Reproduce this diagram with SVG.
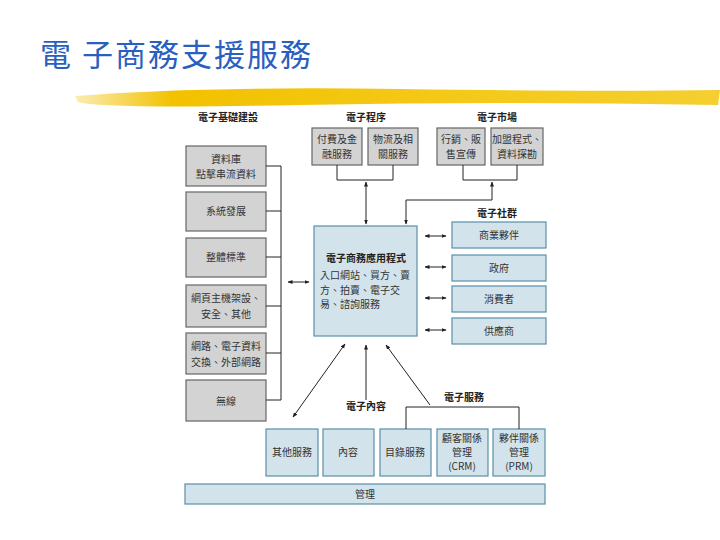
<svg xmlns="http://www.w3.org/2000/svg" width="720" height="540" viewBox="0 0 720 540">
<defs>
<marker id="ah" viewBox="0 0 10 10" refX="9" refY="5" markerWidth="5" markerHeight="5" orient="auto-start-reverse"><path d="M0,1 L10,5 L0,9 z" fill="#222"/></marker>
<linearGradient id="yb" x1="0" y1="0" x2="1" y2="0"><stop offset="0" stop-color="#f2c200" stop-opacity="0.3"/><stop offset="0.15" stop-color="#f2c200"/><stop offset="1" stop-color="#f5cf30"/></linearGradient>
</defs>
<style>
text{font-family:"Noto Sans CJK TC","Liberation Sans",sans-serif;font-size:10px;fill:#333;text-anchor:middle}
.h{font-weight:bold;fill:#222}
.g{fill:#d3d3d3;stroke:#666;stroke-width:1.2}
.b{fill:#d2e3ec;stroke:#5a8ea8;stroke-width:1.2}
.l{fill:none;stroke:#222;stroke-width:1}
.a{fill:none;stroke:#222;stroke-width:1;marker-end:url(#ah);marker-start:url(#ah)}
.s{fill:none;stroke:#222;stroke-width:1;marker-end:url(#ah)}
</style>
<rect width="720" height="540" fill="#fff"/>
<text x="40" y="66" style="font-size:31px;fill:#2a5fc0;text-anchor:start;letter-spacing:2px">電 子商務支援服務</text>
<path d="M75,96 Q200,86 400,89 T720,90 L718,105 Q500,101 300,105 T78,102 z" fill="url(#yb)"/>
<g id="headers">
<text class="h" x="228" y="121">電子基礎建設</text>
<text class="h" x="366" y="121">電子程序</text>
<text class="h" x="497" y="121">電子市場</text>
<text class="h" x="497" y="217">電子社群</text>
<text class="h" x="366" y="410">電子內容</text>
<text class="h" x="464" y="401">電子服務</text>
</g>
<g id="left">
<rect class="g" x="186" y="146" width="80" height="40"/><text x="226" y="163">資料庫</text><text x="226" y="178">點擊串流資料</text>
<rect class="g" x="186" y="192" width="80" height="39"/><text x="226" y="215">系統發展</text>
<rect class="g" x="186" y="238" width="80" height="39"/><text x="226" y="261">整體標準</text>
<rect class="g" x="186" y="285" width="80" height="42"/><text x="226" y="302">網頁主機架設、</text><text x="226" y="318">安全、其他</text>
<rect class="g" x="186" y="333" width="80" height="41"/><text x="226" y="350">網路、電子資料</text><text x="226" y="366">交換、外部網路</text>
<rect class="g" x="186" y="380" width="80" height="41"/><text x="226" y="405">無線</text>
</g>
<g id="process">
<rect class="g" x="312" y="128" width="50" height="37"/><text x="337" y="143">付費及金</text><text x="337" y="158">融服務</text>
<rect class="g" x="368" y="128" width="50" height="37"/><text x="393" y="143">物流及相</text><text x="393" y="158">關服務</text>
<rect class="g" x="437" y="128" width="48" height="37"/><text x="461" y="143">行銷、販</text><text x="461" y="158">售宣傳</text>
<rect class="g" x="491" y="128" width="52" height="37"/><text x="517" y="143">加盟程式、</text><text x="517" y="158">資料探勘</text>
</g>
<g id="app">
<rect class="b" x="314" y="226" width="103" height="110"/>
<text class="h" x="366" y="262">電子商務應用程式</text>
<text x="320" y="279" style="text-anchor:start">入口網站、買方、賣</text>
<text x="320" y="294" style="text-anchor:start">方、拍賣、電子交</text>
<text x="320" y="308" style="text-anchor:start">易、諮詢服務</text>
</g>
<g id="community">
<rect class="b" x="452" y="222" width="94" height="26"/><text x="499" y="239">商業夥伴</text>
<rect class="b" x="452" y="255" width="94" height="26"/><text x="499" y="272">政府</text>
<rect class="b" x="452" y="286" width="94" height="26"/><text x="499" y="303">消費者</text>
<rect class="b" x="452" y="318" width="94" height="26"/><text x="499" y="335">供應商</text>
</g>
<g id="bottom">
<rect class="b" x="266" y="429" width="52" height="47"/><text x="292" y="456">其他服務</text>
<rect class="b" x="323" y="429" width="51" height="47"/><text x="348" y="456">內容</text>
<rect class="b" x="380" y="429" width="51" height="47"/><text x="405" y="456">目錄服務</text>
<rect class="b" x="437" y="429" width="51" height="47"/><text x="462" y="442">顧客關係</text><text x="462" y="456">管理</text><text x="462" y="470">(CRM)</text>
<rect class="b" x="493" y="429" width="52" height="47"/><text x="519" y="442">夥伴關係</text><text x="519" y="456">管理</text><text x="519" y="470">(PRM)</text>
<rect class="b" x="185" y="484" width="360" height="20"/><text x="365" y="498">管理</text>
</g>
<g id="connectors">
<path class="l" d="M266,166H281M266,211H281M266,257H281M266,306H281M266,353H281M266,400H281M281,166V400"/>
<line class="a" x1="288" y1="282" x2="309" y2="282"/>
<path class="l" d="M337,165V180H393V165M463,165V180H517V165"/>
<line class="a" x1="366" y1="182" x2="366" y2="224"/>
<path class="a" d="M492,182V200H406V224"/>
<line class="a" x1="425" y1="236" x2="446" y2="236"/>
<line class="a" x1="425" y1="267" x2="446" y2="267"/>
<line class="a" x1="425" y1="298" x2="446" y2="298"/>
<line class="a" x1="425" y1="330" x2="446" y2="330"/>
<line class="a" x1="293" y1="417" x2="345" y2="344"/>
<line class="s" x1="366" y1="400" x2="366" y2="345"/>
<line class="s" x1="430" y1="405" x2="386" y2="345"/>
<path class="l" d="M406,429V407H519V429"/>
</g>
</svg>
